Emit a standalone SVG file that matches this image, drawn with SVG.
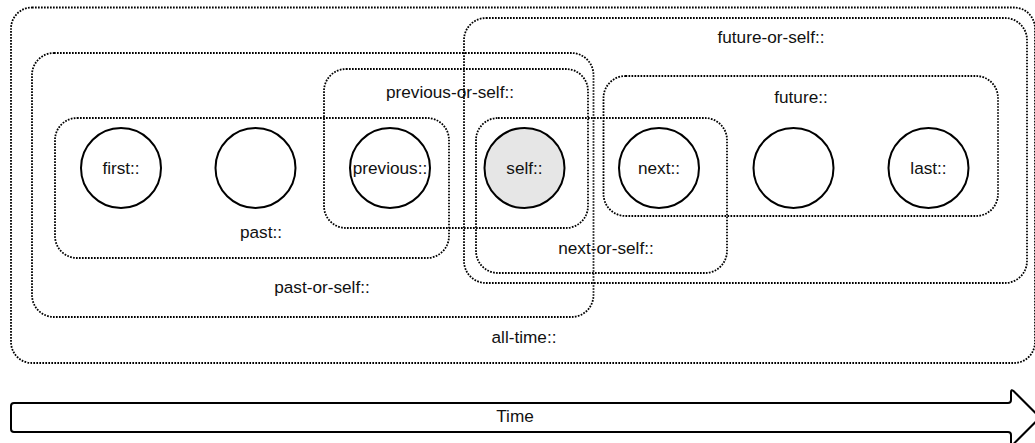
<svg xmlns="http://www.w3.org/2000/svg" width="1035" height="443" viewBox="0 0 1035 443">
  <style>
    .scope { fill: none; stroke: #000; stroke-width: 1.8; stroke-dasharray: 1.7 1.3; }
    .step { fill: #fff; stroke: #000; stroke-width: 2; }
    .step.current { fill: #e6e6e6; }
    .lbl { font-family: "Liberation Sans", Arial, Helvetica, sans-serif; font-size: 17.2px; fill: #111; text-anchor: middle; }
  </style>
  <rect width="1035" height="443" fill="#fff"/>

  <!-- nested scopes -->
  <g id="all-time">
    <rect class="scope" x="11" y="7.5" width="1024" height="355.5" rx="21"/>
    <text class="lbl" x="524" y="343">all-time::</text>
  </g>
  <g id="past-or-self">
    <rect class="scope" x="32" y="53" width="561.5" height="264" rx="22"/>
    <text class="lbl" x="322" y="293">past-or-self::</text>
  </g>
  <g id="past">
    <rect class="scope" x="55" y="118" width="394" height="140" rx="22"/>
    <text class="lbl" x="261" y="238">past::</text>
  </g>
  <g id="previous-or-self">
    <rect class="scope" x="324" y="69" width="264" height="159" rx="22"/>
    <text class="lbl" x="450" y="98">previous-or-self::</text>
  </g>
  <g id="future-or-self">
    <rect class="scope" x="464" y="18" width="563" height="265" rx="22"/>
    <text class="lbl" x="771" y="43">future-or-self::</text>
  </g>
  <g id="next-or-self">
    <rect class="scope" x="476" y="118" width="251" height="155" rx="22"/>
    <text class="lbl" x="606" y="254">next-or-self::</text>
  </g>
  <g id="future">
    <rect class="scope" x="603.5" y="76" width="394.5" height="140" rx="22"/>
    <text class="lbl" x="801" y="103">future::</text>
  </g>

  <!-- time steps -->
  <g id="first">
    <circle class="step" cx="121" cy="168" r="40"/>
    <text class="lbl" x="121" y="174">first::</text>
  </g>
  <g id="step-2">
    <circle class="step" cx="255.5" cy="168" r="40"/>
  </g>
  <g id="previous">
    <circle class="step" cx="390" cy="168" r="40"/>
    <text class="lbl" x="390" y="174">previous::</text>
  </g>
  <g id="self">
    <circle class="step current" cx="524.5" cy="168" r="40"/>
    <text class="lbl" x="524.5" y="174">self::</text>
  </g>
  <g id="next">
    <circle class="step" cx="659" cy="168" r="40"/>
    <text class="lbl" x="659" y="174">next::</text>
  </g>
  <g id="step-6">
    <circle class="step" cx="793.5" cy="168" r="40"/>
  </g>
  <g id="last">
    <circle class="step" cx="928.5" cy="168" r="40"/>
    <text class="lbl" x="928.5" y="174">last::</text>
  </g>

  <!-- time axis -->
  <g id="time">
    <path d="M 14 403 L 1008 403 Q 1011 403 1011 400 L 1011 392 Q 1011 389 1013.5 391 L 1040 417.5 L 1013.5 444 Q 1011 446 1011 443 L 1011 435 Q 1011 432 1008 432 L 14 432 Q 11 432 11 429 L 11 406 Q 11 403 14 403 Z" fill="#fff" stroke="#000" stroke-width="2" stroke-linejoin="round"/>
    <text class="lbl" x="515" y="421.5">Time</text>
  </g>

  <g id="connectors"/>
</svg>
